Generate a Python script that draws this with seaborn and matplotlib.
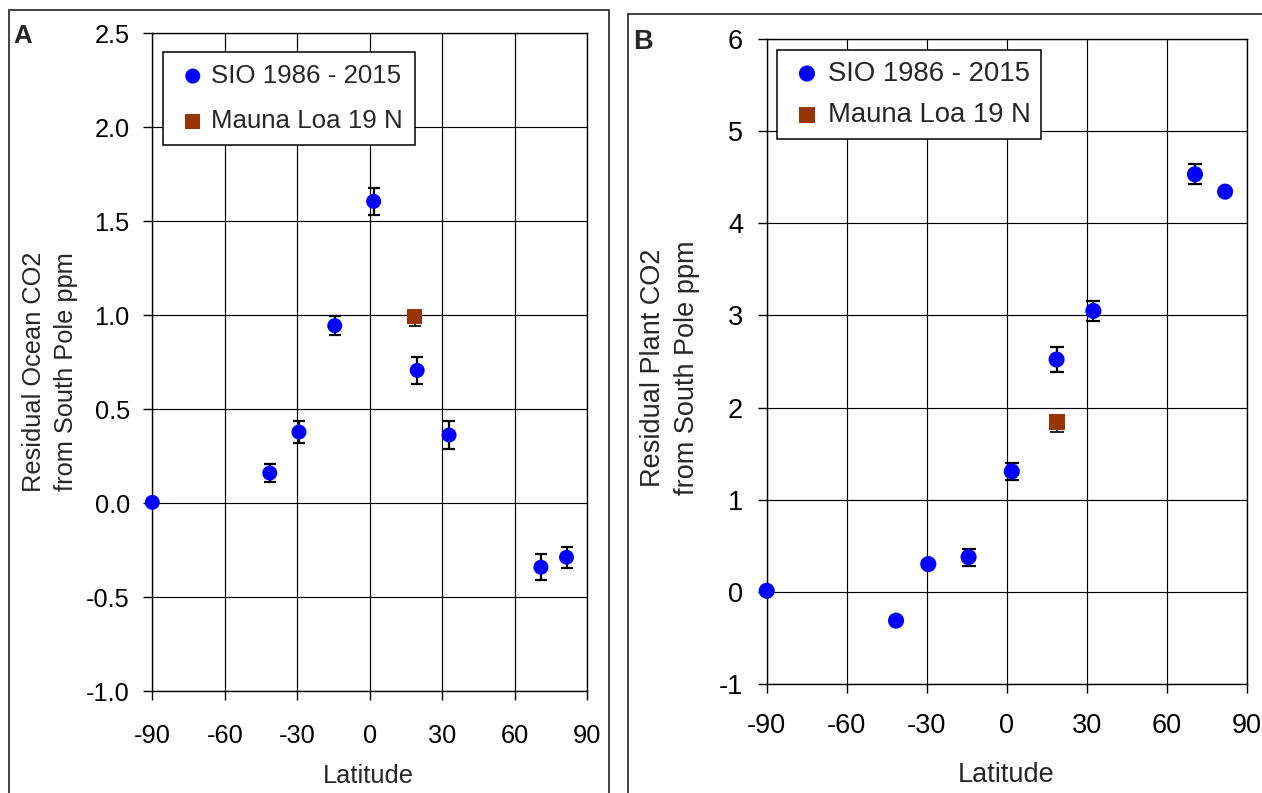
import matplotlib
matplotlib.use("Agg")
import matplotlib.pyplot as plt
from matplotlib.patches import Rectangle
import seaborn as sns

# ---------------- data ----------------
# Panel A: residual ocean CO2
lat_sio_a = [-90, -41.4, -29.3, -14.5, 1.6, 19.6, 32.8, 70.8, 81.4]
val_sio_a = [0.005, 0.161, 0.379, 0.945, 1.606, 0.707, 0.363, -0.340, -0.287]
err_sio_a = [0.0, 0.05, 0.058, 0.049, 0.072, 0.073, 0.073, 0.069, 0.055]
lat_ml_a = [18.7]
val_ml_a = [0.993]
err_ml_lo_a = [0.052]
err_ml_hi_a = [0.0]

# Panel B: residual plant CO2
lat_sio_b = [-90, -41.5, -29.4, -14.3, 1.9, 18.7, 32.5, 70.6, 81.9]
val_sio_b = [0.014, -0.31, 0.303, 0.379, 1.308, 2.521, 3.048, 4.529, 4.341]
err_sio_b = [0.0, 0.03, 0.03, 0.092, 0.095, 0.135, 0.108, 0.107, 0.0]
lat_ml_b = [18.7]
val_ml_b = [1.845]
err_ml_lo_b = [0.11]
err_ml_hi_b = [0.0]

xticks = [-90, -60, -30, 0, 30, 60, 90]
xticklabels = ["-90", "-60", "-30", "0", "30", "60", "90"]
yticks_a = [-1.0, -0.5, 0.0, 0.5, 1.0, 1.5, 2.0, 2.5]
yticklabels_a = ["-1.0", "-0.5", "0.0", "0.5", "1.0", "1.5", "2.0", "2.5"]
yticks_b = [-1, 0, 1, 2, 3, 4, 5, 6]
yticklabels_b = ["-1", "0", "1", "2", "3", "4", "5", "6"]

series_sio = "SIO 1986 - 2015"
series_ml = "Mauna Loa 19 N"
ylabel_a = "Residual Ocean CO2\nfrom South Pole ppm"
ylabel_b = "Residual Plant CO2\nfrom South Pole ppm"
xlabel = "Latitude"

# ---------------- style ----------------
sns.set_style("white")
plt.rcParams["font.family"] = ["Liberation Sans", "DejaVu Sans"]
plt.rcParams["axes.unicode_minus"] = False

W, H = 1262, 793
fig = plt.figure(figsize=(W / 100, H / 100), dpi=100)


def fx(px):
    return px / W


def fy(py):
    return 1 - py / H


BLUE = "#0000FF"
BROWN = "#993300"


def panel(ax, lat, val, err, mlat, mval, merr_lo, merr_hi, yticks, yticklabels,
          ylim, fs, ms, cap, xpad, ypad, leg_anchor, leg_spacing, leg_pad,
          hlen, htpad):
    ax.set_axisbelow(True)
    ax.grid(True, color="black", linewidth=0.85)
    ax.errorbar(lat, val, yerr=err, fmt="none", ecolor="black",
                elinewidth=1.6, capsize=cap, capthick=1.6, zorder=2)
    ax.errorbar(mlat, mval, yerr=[merr_lo, merr_hi], fmt="none", ecolor="black",
                elinewidth=1.2, capsize=cap, capthick=1.2, zorder=2)
    sns.scatterplot(x=lat, y=val, ax=ax, color=BLUE, marker="o", s=ms ** 2,
                    edgecolor="none", linewidth=0, label=series_sio, zorder=3,
                    clip_on=False)
    sns.scatterplot(x=mlat, y=mval, ax=ax, color=BROWN, marker="s", s=ms ** 2,
                    edgecolor="none", linewidth=0, label=series_ml, zorder=3,
                    clip_on=False)
    ax.set_xlim(-90, 90)
    ax.set_ylim(*ylim)
    ax.set_xticks(xticks)
    ax.set_xticklabels(xticklabels)
    ax.set_yticks(yticks)
    ax.set_yticklabels(yticklabels)
    ax.set_xlabel("")
    ax.set_ylabel("")
    for s in ax.spines.values():
        s.set_visible(True)
        s.set_color("black")
        s.set_linewidth(1.0)
    ax.tick_params(axis="both", direction="out", length=6.7, width=1.0,
                   color="black", labelsize=fs, labelcolor="black")
    ax.tick_params(axis="x", pad=xpad, bottom=True)
    ax.tick_params(axis="y", pad=ypad, left=True)
    leg = ax.legend(loc="upper left", bbox_to_anchor=leg_anchor,
                    bbox_transform=fig.transFigure, borderaxespad=0,
                    fontsize=fs + 0.3, frameon=True, fancybox=False,
                    edgecolor="black", framealpha=1, borderpad=leg_pad,
                    handlelength=hlen, handletextpad=htpad,
                    labelspacing=leg_spacing)
    leg.get_frame().set_linewidth(1.1)
    return ax


axA = fig.add_axes([fx(152.3), fy(691.3), (587.3 - 152.3) / W, (691.3 - 33.3) / H])
axB = fig.add_axes([fx(766.7), fy(684.3), (1246.7 - 766.7) / W, (684.3 - 38.6) / H])

panel(axA, lat_sio_a, val_sio_a, err_sio_a, lat_ml_a, val_ml_a,
      err_ml_lo_a, err_ml_hi_a, yticks_a, yticklabels_a, (-1.0, 2.5),
      fs=18.3, ms=10.8, cap=4.2, xpad=17, ypad=9.5,
      leg_anchor=(fx(163.3), fy(51.7)), leg_spacing=0.82, leg_pad=0.47,
      hlen=1.34, htpad=0.04)
panel(axB, lat_sio_b, val_sio_b, err_sio_b, lat_ml_b, val_ml_b,
      err_ml_lo_b, err_ml_hi_b, yticks_b, yticklabels_b, (-1, 6),
      fs=19.5, ms=11.6, cap=5.0, xpad=14, ypad=10.3,
      leg_anchor=(fx(776.7), fy(50)), leg_spacing=0.56, leg_pad=0.39,
      hlen=1.42, htpad=0.04)

# axis labels
fig.text(fx(368), fy(783.3), xlabel, ha="center", va="baseline", fontsize=18.3)
fig.text(fx(1006), fy(781.7), xlabel, ha="center", va="baseline", fontsize=19.5)
fig.text(fx(50), fy(371.7), ylabel_a, ha="center", va="center", rotation=90,
         multialignment="center", fontsize=18.3, linespacing=1.38)
fig.text(fx(670), fy(368), ylabel_b, ha="center", va="center", rotation=90,
         multialignment="center", fontsize=19.5, linespacing=1.38)

# panel letters
fig.text(fx(13), fy(43), "A", ha="left", va="baseline", fontsize=18.5,
         fontweight="bold")
fig.text(fx(633), fy(49.3), "B", ha="left", va="baseline", fontsize=19.5,
         fontweight="bold")

# panel frames
fig.add_artist(Rectangle((fx(9), fy(805)), (609 - 9) / W, (805 - 10) / H,
                         transform=fig.transFigure, fill=False,
                         edgecolor="#222222", linewidth=1.2, clip_on=False))
fig.add_artist(Rectangle((fx(628), fy(805)), (1280 - 628) / W, (805 - 14) / H,
                         transform=fig.transFigure, fill=False,
                         edgecolor="#222222", linewidth=1.2, clip_on=False))

fig.savefig("out.png", dpi=100)
